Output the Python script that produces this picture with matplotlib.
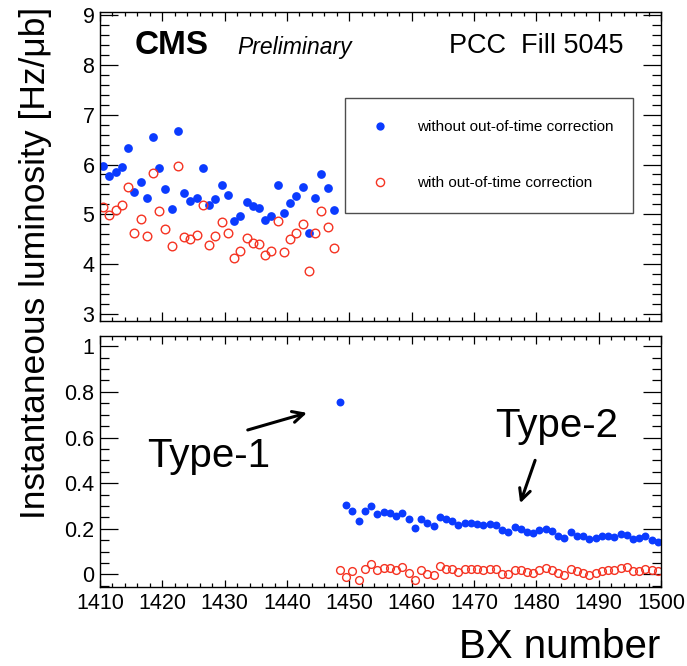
import numpy as np
from matplotlib import pyplot as plt
from matplotlib.ticker import AutoMinorLocator, FuncFormatter

plt.rcParams['font.family'] = ['Liberation Sans', 'DejaVu Sans']

# BX bins (bin centres)
bx_top = np.arange(1410, 1448) + 0.5
bx_bot = np.arange(1448, 1500) + 0.5

lumi_raw_top = [5.98, 5.77, 5.85, 5.95, 6.33, 5.45, 5.64, 5.33, 6.56, 5.92,
                5.50, 5.11, 6.68, 5.43, 5.26, 5.33, 5.92, 5.19, 5.30, 5.59,
                5.39, 4.87, 4.96, 5.24, 5.16, 5.13, 4.88, 4.96, 5.59, 5.02,
                5.22, 5.37, 5.55, 4.63, 5.33, 5.81, 5.53, 5.08]
lumi_corr_top = [5.14, 4.98, 5.09, 5.18, 5.55, 4.63, 4.91, 4.57, 5.83, 5.07,
                 4.71, 4.36, 5.97, 4.55, 4.51, 4.59, 5.18, 4.39, 4.57, 4.84,
                 4.63, 4.12, 4.25, 4.53, 4.42, 4.40, 4.17, 4.25, 4.87, 4.24,
                 4.51, 4.63, 4.80, 3.86, 4.63, 5.06, 4.74, 4.31]

lumi_raw_bot = [0.755, 0.304, 0.277, 0.236, 0.277, 0.298, 0.267, 0.274, 0.271, 0.258,
                0.268, 0.241, 0.204, 0.242, 0.227, 0.214, 0.252, 0.242, 0.235, 0.217,
                0.227, 0.227, 0.221, 0.218, 0.223, 0.218, 0.195, 0.186, 0.207, 0.197,
                0.186, 0.182, 0.194, 0.199, 0.189, 0.169, 0.160, 0.188, 0.169, 0.168,
                0.155, 0.161, 0.168, 0.170, 0.166, 0.176, 0.175, 0.155, 0.158, 0.169,
                0.153, 0.144]
lumi_corr_bot = [0.021, -0.009, 0.015, -0.023, 0.025, 0.047, 0.018, 0.028, 0.028, 0.021,
                 0.031, 0.007, -0.023, 0.021, 0.001, -0.004, 0.037, 0.025, 0.025, 0.010,
                 0.022, 0.025, 0.024, 0.018, 0.026, 0.025, 0.004, 0.001, 0.021, 0.018,
                 0.010, 0.006, 0.018, 0.028, 0.021, 0.006, -0.004, 0.025, 0.013, 0.007,
                 -0.002, 0.007, 0.016, 0.019, 0.018, 0.029, 0.032, 0.015, 0.015, 0.026,
                 0.018, 0.013]

blue = '#0b3bff'
red = '#f53322'

fig = plt.figure(figsize=(6.87, 6.66), dpi=100)
ax1 = fig.add_axes([0.1456, 0.518, 0.8166, 0.464])
ax2 = fig.add_axes([0.1456, 0.1186, 0.8166, 0.377])

ax1.plot(bx_top, lumi_raw_top, 'o', color=blue, ms=6.3, mew=0,
         label='without out-of-time correction')
ax1.plot(bx_top, lumi_corr_top, 'o', mfc='none', mec=red, ms=6.2, mew=1.0,
         label='with out-of-time correction')
ax2.plot(bx_bot, lumi_raw_bot, 'o', color=blue, ms=5.7, mew=0)
ax2.plot(bx_bot, lumi_corr_bot, 'o', mfc='none', mec=red, ms=5.6, mew=1.0)

ax1.set_ylim(2.85, 9.07)
ax2.set_ylim(-0.055, 1.045)
for ax in (ax1, ax2):
    ax.set_xlim(1410, 1500)
    ax.xaxis.set_major_locator(plt.MultipleLocator(10))
    ax.xaxis.set_minor_locator(AutoMinorLocator(5))
    for s in ax.spines.values():
        s.set_linewidth(1.0)
    ax.tick_params(which='both', direction='in', top=True, right=True,
                   labelsize=15.5, width=0.9)
    ax.tick_params(axis='y', which='major', length=13, pad=4)
    ax.tick_params(axis='y', which='minor', length=6.5)

ax1.yaxis.set_major_locator(plt.MultipleLocator(1))
ax1.yaxis.set_minor_locator(AutoMinorLocator(5))
ax1.tick_params(axis='x', which='major', length=6.5, labelbottom=False)
ax1.tick_params(axis='x', which='minor', length=3.2)

ax2.yaxis.set_major_locator(plt.MultipleLocator(0.2))
ax2.yaxis.set_minor_locator(AutoMinorLocator(4))
ax2.yaxis.set_major_formatter(FuncFormatter(lambda v, p: '%g' % round(v, 2)))
ax2.tick_params(axis='x', which='major', length=5.4, pad=4)
ax2.tick_params(axis='x', which='minor', length=2.7)

leg = ax1.legend(loc='upper left', bbox_to_anchor=(0.4367, 0.327, 0.513, 0.395),
                 mode='expand', borderaxespad=0, fontsize=11, frameon=True,
                 fancybox=False, borderpad=1.45, labelspacing=2.77,
                 handlelength=1.7, handletextpad=1.57, markerscale=0.95)
leg.get_frame().set_edgecolor('#222222')
leg.get_frame().set_linewidth(1.0)

ax1.text(0.062, 0.893, 'CMS', transform=ax1.transAxes, fontsize=24,
         fontweight='bold', va='center')
ax1.text(0.245, 0.885, 'Preliminary', transform=ax1.transAxes, fontsize=16.5,
         style='italic', va='center')
ax1.text(0.933, 0.89, 'PCC  Fill 5045', transform=ax1.transAxes, fontsize=19.5,
         ha='right', va='center')

arrow_style = dict(arrowstyle='->,head_length=0.8,head_width=0.4',
                   lw=2.2, color='black', shrinkA=0, shrinkB=0)
ax2.annotate('', xy=(1443.2, 0.708), xytext=(1433.7, 0.633), arrowprops=arrow_style)
ax2.text(1417.5, 0.47, 'Type-1', fontsize=29, va='baseline')
ax2.annotate('', xy=(1477.4, 0.312), xytext=(1479.8, 0.50), arrowprops=arrow_style)
ax2.text(1473.4, 0.603, 'Type-2', fontsize=29, va='baseline')

fig.text(0.051, 0.605, 'Instantaneous luminosity [Hz/\u03bcb]', rotation=90,
         fontsize=25.5, ha='center', va='center')
fig.text(0.961, 0.012, 'BX number', fontsize=29, ha='right', va='baseline')

plt.savefig('out.png', dpi=100)
